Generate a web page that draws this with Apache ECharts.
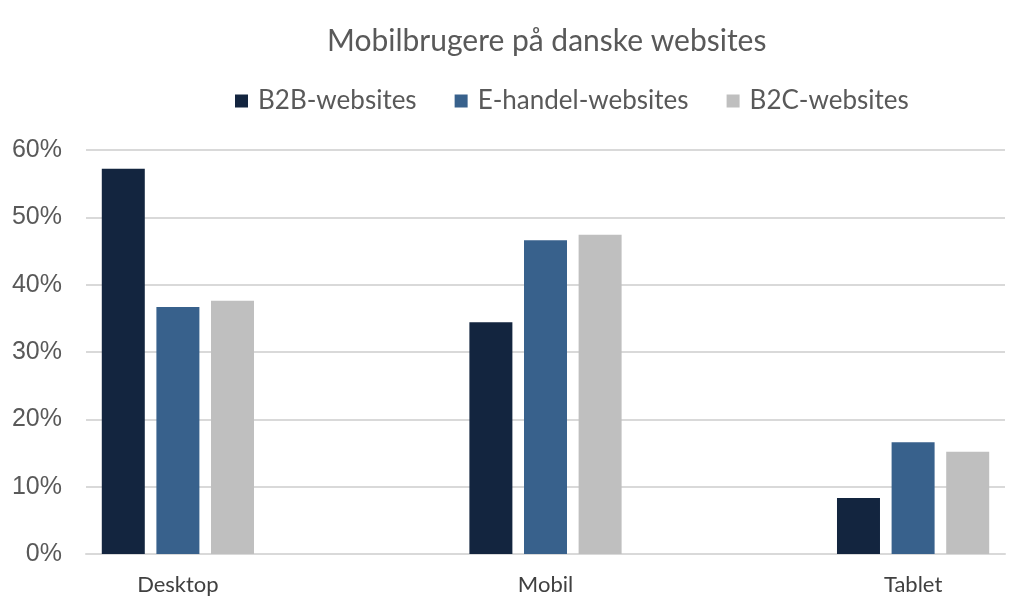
<!DOCTYPE html>
<html>
<head>
<meta charset="utf-8">
<script src="https://cdn.jsdelivr.net/npm/echarts@6/dist/echarts.min.js"></script>
<style>
  html, body { margin: 0; padding: 0; background: #fff; }
  #main { width: 1024px; height: 613px; }
</style>
</head>
<body>
<div id="main"></div>
<script>
var categories = ['Desktop', 'Mobil', 'Tablet'];
var seriesNames = ['B2B-websites', 'E-handel-websites', 'B2C-websites'];
var b2b = [57.2, 34.4, 8.3];
var ehandel = [36.7, 46.6, 16.6];
var b2c = [37.6, 47.4, 15.2];
var yTicks = [0, 10, 20, 30, 40, 50, 60];
var colors = ['#13253f', '#38618c', '#bfbfbf'];

// spacer slots between the groups, so the groups sit like the original
function spread(arr) {
  var out = [];
  for (var i = 0; i < arr.length; i++) {
    if (i > 0) out.push('-');
    out.push(arr[i]);
  }
  return out;
}
var axisCats = [];
for (var i = 0; i < categories.length; i++) {
  if (i > 0) axisCats.push('');
  axisCats.push(categories[i]);
}

var myChart = echarts.init(document.getElementById('main'));
var allData = [b2b, ehandel, b2c];
var series = [];
for (var s = 0; s < seriesNames.length; s++) {
  series.push({
    name: seriesNames[s],
    type: 'bar',
    barWidth: 43,
    barGap: '27%',
    itemStyle: { color: colors[s] },
    data: spread(allData[s])
  });
}

var option = {
  animation: false,
  title: {
    text: 'Mobilbrugere på danske websites',
    left: 322,
    top: 21,
    textStyle: { fontFamily: 'Lato', fontSize: 30, fontWeight: 'normal', color: '#595959' }
  },
  legend: {
    data: seriesNames,
    top: 83,
    left: 230,
    itemWidth: 13,
    itemHeight: 13,
    itemGap: 38,
    icon: 'rect',
    textStyle: { fontFamily: 'Lato', fontSize: 26, color: '#595959', padding: [0, 0, 0, 5] }
  },
  grid: { left: 86, right: 19, top: 150, bottom: 59 },
  xAxis: {
    type: 'category',
    data: axisCats,
    axisTick: { show: false },
    axisLine: { lineStyle: { color: '#d9d9d9', width: 2 } },
    axisLabel: { fontFamily: 'Lato', fontSize: 22, color: '#404040', margin: 20, interval: 0 }
  },
  yAxis: {
    type: 'value',
    min: yTicks[0],
    max: yTicks[yTicks.length - 1],
    interval: 10,
    axisLabel: {
      formatter: '{value}%',
      fontFamily: 'Liberation Sans',
      fontSize: 25,
      color: '#595959',
      margin: 24
    },
    splitLine: { lineStyle: { color: '#d9d9d9', width: 2 } }
  },
  series: series
};
myChart.setOption(option);
</script>
</body>
</html>
